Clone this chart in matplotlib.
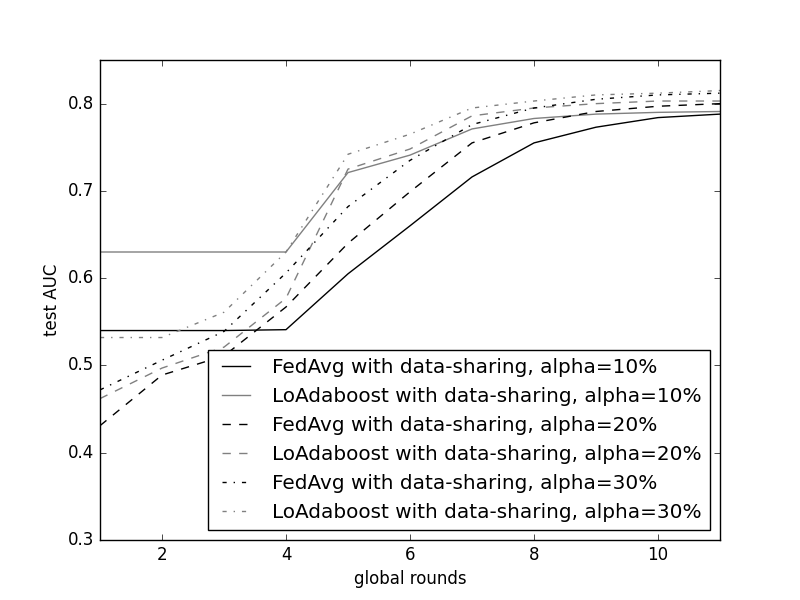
import numpy as np
import matplotlib
matplotlib.use('Agg')
import matplotlib.pyplot as plt

plt.style.use('classic')

rounds = [1, 2, 3, 4, 5, 6, 7, 8, 9, 10, 11]
fedavg_10 = [0.540, 0.540, 0.540, 0.541, 0.605, 0.660, 0.716, 0.755, 0.773, 0.784, 0.788]
loada_10 = [0.630, 0.630, 0.630, 0.630, 0.721, 0.741, 0.771, 0.783, 0.788, 0.790, 0.791]
fedavg_20 = [0.431, 0.489, 0.511, 0.567, 0.640, 0.699, 0.755, 0.778, 0.791, 0.797, 0.800]
loada_20 = [0.462, 0.497, 0.521, 0.577, 0.725, 0.748, 0.786, 0.795, 0.800, 0.803, 0.803]
fedavg_30 = [0.472, 0.506, 0.539, 0.606, 0.682, 0.735, 0.776, 0.795, 0.805, 0.810, 0.812]
loada_30 = [0.532, 0.532, 0.561, 0.630, 0.742, 0.765, 0.795, 0.803, 0.810, 0.812, 0.815]

fig = plt.figure(figsize=(8, 6), dpi=100)
ax = fig.add_subplot(111)

ax.plot(rounds, fedavg_10, color='black', linestyle='-', label='FedAvg with data-sharing, alpha=10%')
ax.plot(rounds, loada_10, color='gray', linestyle='-', label='LoAdaboost with data-sharing, alpha=10%')
ax.plot(rounds, fedavg_20, color='black', linestyle='--', label='FedAvg with data-sharing, alpha=20%')
ax.plot(rounds, loada_20, color='gray', linestyle='--', label='LoAdaboost with data-sharing, alpha=20%')
ax.plot(rounds, fedavg_30, color='black', linestyle='-.', label='FedAvg with data-sharing, alpha=30%')
ax.plot(rounds, loada_30, color='gray', linestyle='-.', label='LoAdaboost with data-sharing, alpha=30%')

ax.set_xlim(1, 11)
ax.set_ylim(0.3, 0.85)
ax.set_xticks([2, 4, 6, 8, 10])
ax.set_yticks([0.3, 0.4, 0.5, 0.6, 0.7, 0.8])
ax.set_xlabel('global rounds')
ax.set_ylabel('test AUC')
ax.legend(loc='lower right', fontsize='large')

fig.savefig('out.png', dpi=100)
